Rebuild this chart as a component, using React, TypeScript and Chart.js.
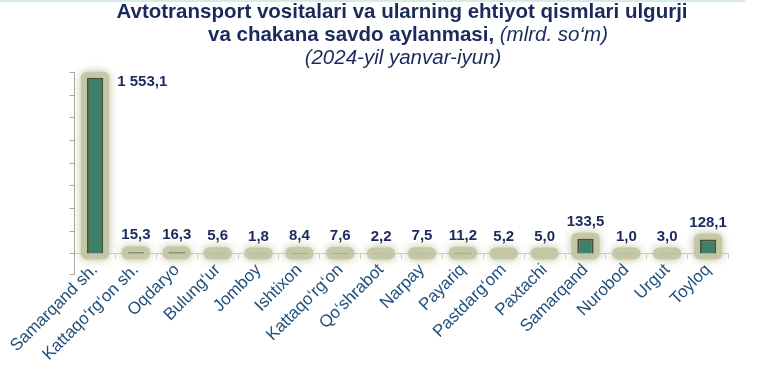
import React, { useEffect, useRef } from "react";
import { Chart, registerables } from "chart.js";

Chart.register(...registerables);

const categories = [
  "Samarqand sh.",
  "Kattaqo\u2018rg\u2018on sh.",
  "Oqdaryo",
  "Bulung\u2018ur",
  "Jomboy",
  "Ishtixon",
  "Kattaqo\u2018rg\u2018on",
  "Qo\u2018shrabot",
  "Narpay",
  "Payariq",
  "Pastdarg\u2018om",
  "Paxtachi",
  "Samarqand",
  "Nurobod",
  "Urgut",
  "Toyloq",
];

const values = [1553.1, 15.3, 16.3, 5.6, 1.8, 8.4, 7.6, 2.2, 7.5, 11.2, 5.2, 5.0, 133.5, 1.0, 3.0, 128.1];

const yTicks = [-180, 0, 200, 400, 600, 800, 1000, 1200, 1400, 1600];

const titleLine1 = "Avtotransport vositalari va ularning ehtiyot qismlari ulgurji";
const titleLine2Bold = "va chakana savdo aylanmasi,";
const titleLine2Italic = " (mlrd. so\u2018m)";
const titleLine3 = "(2024-yil yanvar-iyun)";

const FONT = "'Liberation Sans', Arial, sans-serif";

function fmt(v: number): string {
  const [i, d] = v.toFixed(1).split(".");
  return i.replace(/\B(?=(\d{3})+(?!\d))/g, " ") + "," + d;
}

const titlePlugin = {
  id: "customTitle",
  beforeDraw(chart: any) {
    const ctx = chart.ctx;
    ctx.save();
    ctx.fillStyle = "#d5ece6";
    ctx.fillRect(0, 0, 745, 2);
    ctx.fillStyle = "#1b2a5c";
    ctx.textBaseline = "alphabetic";
    ctx.textAlign = "left";
    const cx = 402;
    ctx.font = `bold 20.5px ${FONT}`;
    let w = ctx.measureText(titleLine1).width;
    ctx.fillText(titleLine1, cx - w / 2, 18);
    ctx.font = `bold 20.5px ${FONT}`;
    const wb = ctx.measureText(titleLine2Bold).width;
    ctx.font = `italic 20.5px ${FONT}`;
    const wi = ctx.measureText(titleLine2Italic).width;
    const start = cx + 6 - (wb + wi) / 2;
    ctx.font = `bold 20.5px ${FONT}`;
    ctx.fillText(titleLine2Bold, start, 41);
    ctx.font = `italic 20.5px ${FONT}`;
    ctx.fillText(titleLine2Italic, start + wb, 41);
    w = ctx.measureText(titleLine3).width;
    ctx.fillText(titleLine3, cx + 1 - w / 2, 64);
    ctx.restore();
  },
};

const glowPlugin = {
  id: "barGlow",
  beforeDatasetsDraw(chart: any) {
    const ctx = chart.ctx;
    const meta = chart.getDatasetMeta(0);
    ctx.save();
    meta.data.forEach((el: any) => {
      const { x, y, base, width } = el.getProps(["x", "y", "base", "width"], true);
      const left = x - width / 2 - 6;
      const right = x + width / 2 + 6;
      const top = Math.min(y, base) - 6;
      const bottom = base + 6;
      ctx.shadowColor = "rgba(175,182,135,0.95)";
      ctx.shadowBlur = 8;
      ctx.fillStyle = "rgba(194,199,165,0.9)";
      ctx.beginPath();
      if (ctx.roundRect) ctx.roundRect(left, top, right - left, bottom - top, 6);
      else ctx.rect(left, top, right - left, bottom - top);
      ctx.fill();
    });
    ctx.restore();
  },
};

const labelPlugin = {
  id: "valueLabels",
  afterDatasetsDraw(chart: any) {
    const ctx = chart.ctx;
    const meta = chart.getDatasetMeta(0);
    const data = chart.data.datasets[0].data as number[];
    const maxV = Math.max(...data);
    ctx.save();
    ctx.font = `bold 15px ${FONT}`;
    ctx.fillStyle = "#1b2a5c";
    ctx.textBaseline = "middle";
    meta.data.forEach((el: any, i: number) => {
      const { x, y, width } = el.getProps(["x", "y", "width"], true);
      const t = fmt(data[i]);
      if (data[i] === maxV) {
        ctx.textAlign = "left";
        ctx.fillText(t, x + width / 2 + 14, y + 4);
      } else {
        ctx.textAlign = "center";
        ctx.fillText(t, x, y - 17);
      }
    });
    ctx.restore();
  },
};

export default function App() {
  const ref = useRef<HTMLCanvasElement | null>(null);

  useEffect(() => {
    if (!ref.current) return;
    const chart = new Chart(ref.current, {
      type: "bar",
      data: {
        labels: categories,
        datasets: [
          {
            data: values,
            backgroundColor: "#3f8068",
            borderColor: "#4a4f3e",
            borderWidth: { left: 2, right: 2, top: 2, bottom: 0 },
            borderSkipped: false,
            barPercentage: 0.4,
            categoryPercentage: 1,
          },
        ],
      },
      options: {
        responsive: false,
        animation: false,
        maintainAspectRatio: false,
        layout: { padding: { left: 64.6, right: 36.5, top: 72.5, bottom: 103.6 } },
        plugins: {
          legend: { display: false },
          title: { display: false },
          tooltip: { enabled: false },
        },
        scales: {
          x: {
            position: { y: 0 } as any,
            afterFit(scale: any) {
              scale.height = 0;
            },
            grid: {
              drawOnChartArea: false,
              drawTicks: true,
              tickLength: 5,
              color: "#cfcfcf",
              offset: true,
            },
            border: { display: true, color: "#cfcfcf", width: 1 },
            ticks: {
              autoSkip: false,
              maxRotation: 45,
              minRotation: 45,
              color: "#1f4f7c",
              font: { family: FONT, size: 17 },
              padding: 1,
            },
          },
          y: {
            min: -180,
            max: 1600,
            afterFit(scale: any) {
              scale.width = 10;
            },
            afterBuildTicks(scale: any) {
              scale.ticks = yTicks.map((v) => ({ value: v }));
            },
            grid: {
              drawOnChartArea: false,
              drawTicks: true,
              tickLength: 5,
              color: "#a8a8a8",
            },
            border: { display: true, color: "#a8a8a8", width: 1 },
            ticks: { display: false },
          },
        },
      },
      plugins: [titlePlugin, glowPlugin, labelPlugin],
    });
    return () => chart.destroy();
  }, []);

  return (
    <div style={{ position: "fixed", left: 0, top: 0, width: 765, height: 378, background: "#ffffff" }}>
      <canvas ref={ref} width={765} height={378} style={{ width: 765, height: 378 }} />
    </div>
  );
}
